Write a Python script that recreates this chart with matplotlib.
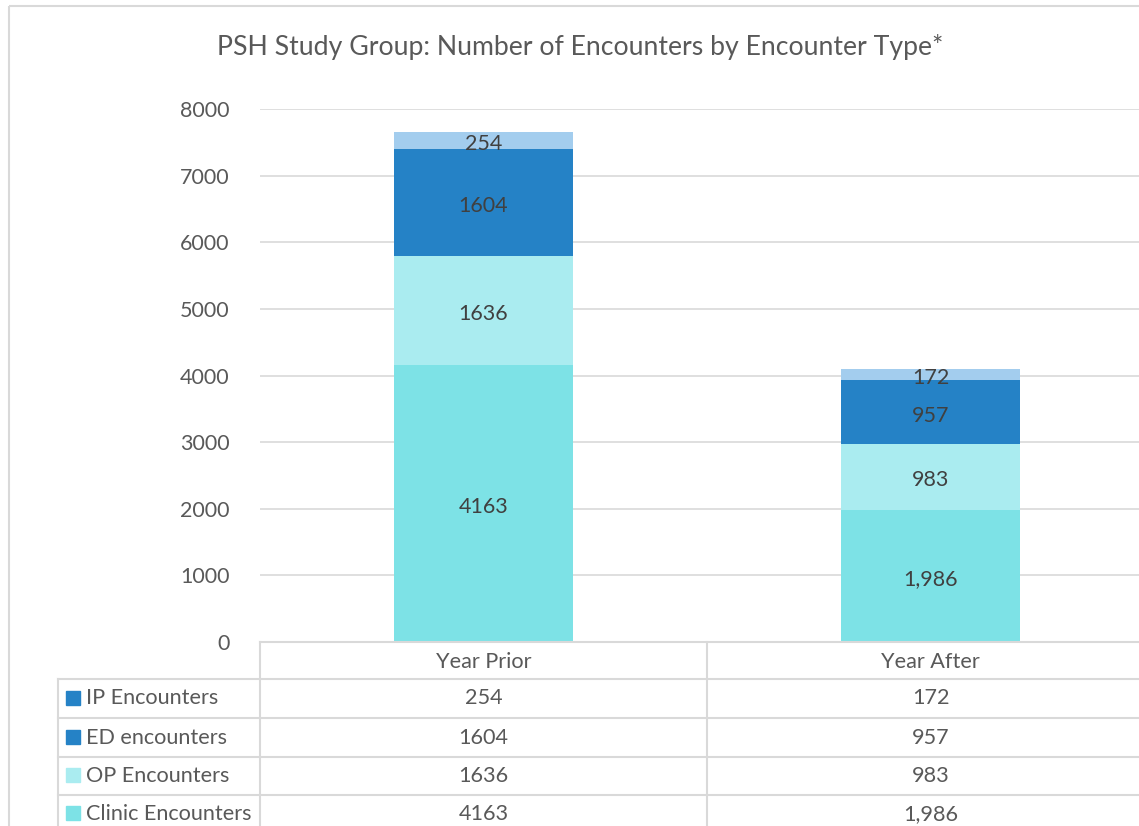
import matplotlib
matplotlib.use("Agg")
import matplotlib.pyplot as plt
from matplotlib.lines import Line2D
from matplotlib.patches import Rectangle

plt.rcParams['font.family'] = ['Lato', 'DejaVu Sans']

# data
years = ['Year Prior', 'Year After']
series = ['Clinic Encounters', 'OP Encounters', 'ED encounters', 'IP Encounters']
clinic = [4163, 1986]
op = [1636, 983]
ed = [1604, 957]
ip = [254, 172]
labels_clinic = ['4163', '1,986']
labels_op = ['1636', '983']
labels_ed = ['1604', '957']
labels_ip = ['254', '172']

bar_colors = ['#7DE2E6', '#AAECF0', '#2582C6', '#A3CDEE']
key_colors = ['#7DE2E6', '#AAECF0', '#2582C6', '#2582C6']
grey = '#595959'
dark = '#404040'
line_c = '#D9D9D9'

W, H = 1139, 826
fig = plt.figure(figsize=(W / 100, H / 100), dpi=100)

# pixel layout of the plot area
px_left, px_right, px_top, px_bottom = 260, 1154, 109, 642
ax = fig.add_axes([px_left / W, 1 - px_bottom / H,
                   (px_right - px_left) / W, (px_bottom - px_top) / H])

vals = [clinic, op, ed, ip]
labs = [labels_clinic, labels_op, labels_ed, labels_ip]
x = list(range(len(years)))
bottom = [0] * len(years)
for v, lab, c in zip(vals, labs, bar_colors):
    ax.bar(x, v, width=0.4, bottom=bottom, color=c, zorder=2)
    for xi, b, vv, t in zip(x, bottom, v, lab):
        ax.annotate(t, (xi, b + vv / 2), xytext=(0, -2.5),
                    textcoords='offset points', ha='center', va='center',
                    color=dark, fontsize=15.5, zorder=3)
    bottom = [b + vv for b, vv in zip(bottom, v)]

ax.set_xlim(-0.5, len(years) - 0.5)
ax.set_ylim(0, 8000)
ax.set_yticks(range(0, 8001, 1000))
ax.set_xticks([])
ax.yaxis.grid(True, color=line_c, lw=1.2, zorder=0)
ax.tick_params(axis='y', length=0, pad=22, labelsize=15.5, labelcolor=grey)
for s in ax.spines.values():
    s.set_visible(False)

# overlay axes in pixel coordinates for frame, title and data table
ov = fig.add_axes([0, 0, 1, 1], zorder=-1)
ov.set_xlim(0, W)
ov.set_ylim(H, 0)
ov.axis('off')
ov.add_patch(Rectangle((9, 6), W + 20, H + 20, fill=False,
                       edgecolor=line_c, lw=1.5))
ov.text(580, 47, 'PSH Study Group: Number of Encounters by Encounter Type*',
        ha='center', va='center', fontsize=19.2, color=grey)

top = fig.add_axes([0, 0, 1, 1], zorder=3)
top.set_xlim(0, W)
top.set_ylim(H, 0)
top.axis('off')
top.patch.set_visible(False)

col_w = (px_right - px_left) / len(years)
key_left = 58
row_lines = [679, 718, 757, 795, 834]
lk = dict(color=line_c, lw=1.5)
top.add_line(Line2D([px_left, W + 10], [px_bottom, px_bottom], **lk))
for yl in row_lines:
    top.add_line(Line2D([key_left, W + 10], [yl, yl], **lk))
top.add_line(Line2D([key_left, key_left], [row_lines[0], H + 10], **lk))
for i in range(len(years) + 1):
    xl = px_left + i * col_w
    top.add_line(Line2D([xl, xl], [px_bottom, H + 10], **lk))

for i, yr in enumerate(years):
    top.text(px_left + (i + 0.5) * col_w, (px_bottom + row_lines[0]) / 2 + 1,
             yr, ha='center', va='center', fontsize=15.6, color=grey)

order = [3, 2, 1, 0]
for r, si in enumerate(order):
    yc = (row_lines[r] + row_lines[r + 1]) / 2 - 1
    if r == 3:
        yc = 813
    top.add_patch(Rectangle((66, yc - 7), 14, 14, color=key_colors[si]))
    top.text(86, yc + 1, series[si], ha='left', va='center', fontsize=15.6,
             color=grey)
    for i in range(len(years)):
        top.text(px_left + (i + 0.5) * col_w, yc + 1, labs[si][i],
                 ha='center', va='center', fontsize=15.6, color=grey)

fig.savefig('out.png', dpi=100)
